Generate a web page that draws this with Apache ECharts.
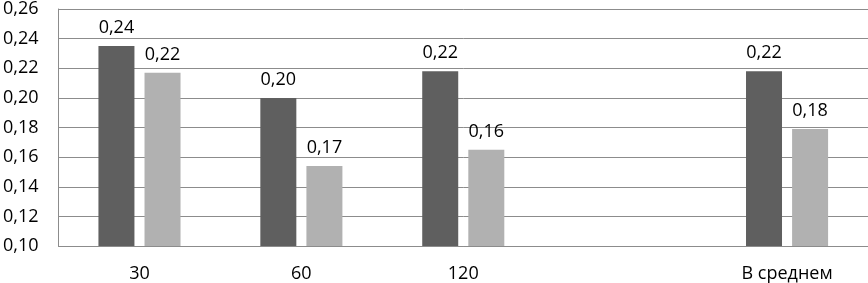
<!DOCTYPE html>
<html><head><meta charset="utf-8">
<script src="https://cdn.jsdelivr.net/npm/echarts@6/dist/echarts.min.js"></script>
<style>html,body{margin:0;padding:0;background:#fff}#c{width:868px;height:283px}</style>
</head><body><div id="c"></div>
<script>
const categories = ['30', '60', '120', '', 'В среднем'];
const seriesA = [0.235, 0.200, 0.218, null, 0.218];
const seriesB = [0.217, 0.154, 0.165, null, 0.179];
const labelsA = ['0,24', '0,20', '0,22', '', '0,22'];
const labelsB = ['0,22', '0,17', '0,16', '', '0,18'];
const yTicks = { min: 0.10, max: 0.26, interval: 0.02 };

const font = '"Open Sans", sans-serif';
const chart = echarts.init(document.getElementById('c'), null, {renderer: 'canvas'});
function mkLabel(arr) {
  return { show: true, position: 'top', distance: 9, color: '#000', fontFamily: font, fontSize: 18,
    formatter: p => arr[p.dataIndex] };
}
chart.setOption({
  animation: false,
  grid: { left: 55, right: 0, top: 8, bottom: 37, containLabel: false },
  xAxis: {
    type: 'category', data: categories,
    axisLine: { show: true, lineStyle: { color: '#8c8c8c', width: 1 } },
    axisTick: { show: false },
    axisLabel: { color: '#000', fontFamily: font, fontSize: 18, margin: 19, interval: 0 }
  },
  yAxis: {
    type: 'value', min: yTicks.min, max: yTicks.max, interval: yTicks.interval,
    axisLine: { show: true, lineStyle: { color: '#8c8c8c', width: 1 } },
    axisTick: { show: false },
    splitLine: { show: true, lineStyle: { color: '#8c8c8c', width: 1 } },
    axisLabel: { color: '#000', fontFamily: font, fontSize: 18, margin: 20,
      formatter: v => v.toFixed(2).replace('.', ',') }
  },
  series: [
    { type: 'bar', data: seriesA, barWidth: 36, barGap: '28%', itemStyle: { color: '#5f5f5f' }, label: mkLabel(labelsA) },
    { type: 'bar', data: seriesB, barWidth: 36, itemStyle: { color: '#b1b1b1' }, label: mkLabel(labelsB) }
  ]
});
</script></body></html>
